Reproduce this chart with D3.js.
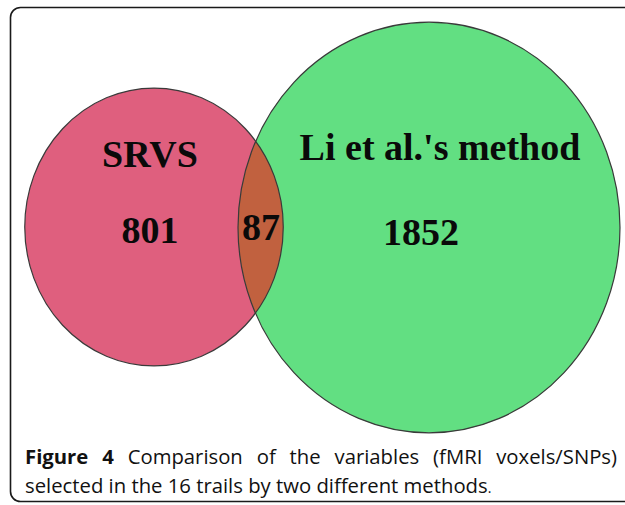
<!DOCTYPE html>
<html>
<head>
<meta charset="utf-8">
<script src="https://cdn.jsdelivr.net/npm/d3@7"></script>
<style>
  html, body { margin: 0; padding: 0; background: #fff; }
  svg { display: block; }
</style>
</head>
<body>
<div id="chart"></div>
<script>
// --- data ---
const setNames = ["SRVS", "Li et al.'s method"];
const onlyCounts = [801, 1852];   // exclusive to each set
const sharedCount = 87;           // in both
const captionBold = "Figure 4";
const captionLine1 = " Comparison of the variables (fMRI voxels/SNPs)";
const captionLine2 = "selected in the 16 trails by two different methods";

const W = 625, H = 505;
const svg = d3.select("#chart").append("svg")
    .attr("width", W)
    .attr("height", H);

// frame
svg.append("rect")
    .attr("x", 10.5).attr("y", 7.5)
    .attr("width", 660).attr("height", 494)
    .attr("rx", 10).attr("ry", 10)
    .attr("fill", "none")
    .attr("stroke", "#1a1a1a")
    .attr("stroke-width", 1.6);

// set sizes -> radius (area proportional)
const totals = onlyCounts.map(c => c + sharedCount);
const r = d3.scaleSqrt().domain([0, d3.max(totals)]).range([0, 191]);
const stretch = 1.075; // ellipses slightly taller than wide

const sets = [
  { name: setNames[0], cx: 154, cy: 227, fill: "#df5f7e" },
  { name: setNames[1], cx: 429, cy: 227.5, fill: "#62df82" }
];
sets.forEach((s, i) => { s.rx = r(totals[i]); s.ry = s.rx * stretch; });

const defs = svg.append("defs");
defs.append("clipPath").attr("id", "clipA")
  .append("ellipse")
    .attr("cx", sets[0].cx).attr("cy", sets[0].cy)
    .attr("rx", sets[0].rx).attr("ry", sets[0].ry);

// fills
svg.selectAll("ellipse.fill")
  .data(sets)
  .enter().append("ellipse")
    .attr("class", "fill")
    .attr("cx", d => d.cx).attr("cy", d => d.cy)
    .attr("rx", d => d.rx).attr("ry", d => d.ry)
    .attr("fill", d => d.fill);

// overlap lens
svg.append("ellipse")
    .attr("clip-path", "url(#clipA)")
    .attr("cx", sets[1].cx).attr("cy", sets[1].cy)
    .attr("rx", sets[1].rx).attr("ry", sets[1].ry)
    .attr("fill", "#c1613f");

// outlines
svg.selectAll("ellipse.edge")
  .data(sets)
  .enter().append("ellipse")
    .attr("class", "edge")
    .attr("cx", d => d.cx).attr("cy", d => d.cy)
    .attr("rx", d => d.rx).attr("ry", d => d.ry)
    .attr("fill", "none")
    .attr("stroke", "#3a3a3a")
    .attr("stroke-width", 1.2);

// labels
const serif = "'Liberation Serif', 'Times New Roman', serif";
const labels = [
  { t: setNames[0], x: 150, y: 167 },
  { t: setNames[1], x: 440, y: 160 },
  { t: onlyCounts[0], x: 150, y: 243 },
  { t: sharedCount, x: 261, y: 240 },
  { t: onlyCounts[1], x: 421, y: 245 }
];
svg.selectAll("text.lbl")
  .data(labels)
  .enter().append("text")
    .attr("class", "lbl")
    .attr("x", d => d.x).attr("y", d => d.y)
    .attr("text-anchor", "middle")
    .attr("font-family", serif)
    .attr("font-weight", "bold")
    .attr("font-size", 38)
    .attr("fill", "#0a0a0a")
    .text(d => d.t);

// caption
const sans = "'Open Sans', 'DejaVu Sans', sans-serif";
const capSize = 20.3;
const cap1 = svg.append("text")
    .attr("x", 25).attr("y", 464)
    .attr("font-family", sans)
    .attr("font-size", capSize)
    .attr("font-weight", 500)
    .attr("fill", "#111");
cap1.append("tspan").attr("font-weight", "bold").text(captionBold);
cap1.append("tspan").text(captionLine1);

// justify first line by widening word gaps
const natural = cap1.node().getComputedTextLength();
const gaps = (captionBold + captionLine1).split(" ").length - 1;
cap1.attr("word-spacing", Math.max(0, (617 - 25 - natural) / gaps));

const cap2 = svg.append("text")
    .attr("x", 25).attr("y", 493)
    .attr("font-family", sans)
    .attr("font-size", capSize)
    .attr("font-weight", 500)
    .attr("fill", "#111");
cap2.append("tspan").text(captionLine2);
cap2.append("tspan").attr("font-size", 14).text(".");
</script>
</body>
</html>
